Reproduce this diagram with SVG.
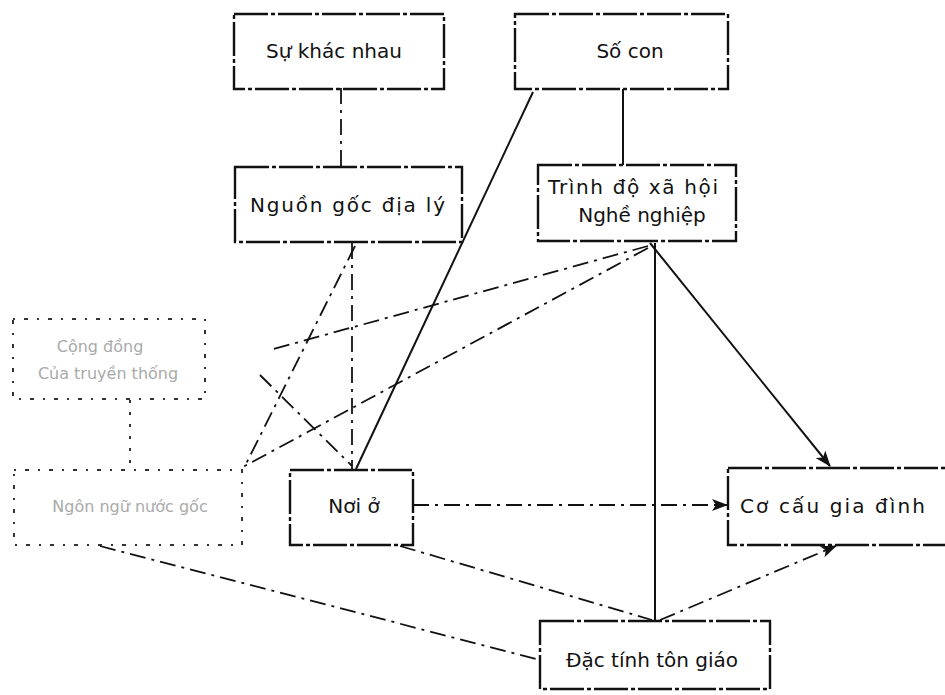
<svg xmlns="http://www.w3.org/2000/svg" width="945" height="695" viewBox="0 0 945 695">
  <style>
    .box { fill: none; stroke: #111; stroke-width: 2.4; stroke-dasharray: 34 3 4 3; }
    .faint { fill: none; stroke: #333; stroke-width: 2; stroke-dasharray: 2 9 4 9; }
    .lbl { font-family: "DejaVu Sans", "Liberation Sans", sans-serif; font-size: 20px; fill: #111; }
    .flbl { font-family: "DejaVu Sans", "Liberation Sans", sans-serif; font-size: 16px; fill: #aaa; }
    .solid { fill: none; stroke: #111; stroke-width: 2; }
    .dd { fill: none; stroke: #111; stroke-width: 1.8; stroke-dasharray: 16 6 3 6; }
    .dot { fill: none; stroke: #333; stroke-width: 2; stroke-dasharray: 3 9; }
  </style>
  <defs>
    <marker id="arr" viewBox="0 0 16 12" refX="15" refY="6" markerWidth="16" markerHeight="12" markerUnits="userSpaceOnUse" orient="auto">
      <path d="M0,0 L16,6 L0,12 L4,6 Z" fill="#111"/>
    </marker>
  </defs>

  <rect width="945" height="695" fill="#fff"/>

  <g id="connectors">
    <!-- Sự khác nhau -> Nguồn gốc địa lý -->
    <line class="dd" x1="341" y1="88" x2="341" y2="167"/>
    <!-- Số con -> Trình độ -->
    <line class="solid" x1="623" y1="89" x2="623" y2="165"/>
    <!-- Số con -> Nơi ở -->
    <line class="solid" x1="533" y1="92" x2="356" y2="469"/>
    <!-- Nguồn gốc -> Nơi ở -->
    <line class="dd" x1="352" y1="243" x2="352" y2="469"/>
    <!-- Nguồn gốc -> lower left box -->
    <line class="dd" x1="355" y1="246" x2="245" y2="466"/>
    <!-- Trình độ -> Cơ cấu gia đình -->
    <line class="solid" x1="650" y1="243" x2="830" y2="466" marker-end="url(#arr)"/>
    <!-- Trình độ -> Đặc tính tôn giáo -->
    <line class="solid" x1="655" y1="243" x2="655" y2="621"/>
    <!-- Trình độ -> upper left box -->
    <line class="dd" x1="648" y1="246" x2="270" y2="350"/>
    <!-- Trình độ -> lower left box -->
    <line class="dd" x1="648" y1="248" x2="243" y2="467"/>
    <!-- upper left box -> Nơi ở -->
    <line class="dd" x1="260" y1="375" x2="352" y2="466"/>
    <!-- upper left box -> lower left box -->
    <line class="dot" x1="130" y1="400" x2="130" y2="468"/>
    <!-- Nơi ở -> Cơ cấu gia đình -->
    <line class="dd" x1="413" y1="505" x2="727" y2="505" marker-end="url(#arr)"/>
    <!-- Nơi ở -> Đặc tính tôn giáo -->
    <line class="dd" x1="400" y1="546" x2="652" y2="620"/>
    <!-- lower left box -> Đặc tính tôn giáo -->
    <line class="dd" x1="100" y1="546" x2="540" y2="660"/>
    <!-- Đặc tính tôn giáo -> Cơ cấu gia đình -->
    <line class="dd" x1="660" y1="620" x2="836" y2="546" marker-end="url(#arr)"/>
  </g>

  <g id="su-khac-nhau">
    <rect class="box" x="234" y="14" width="210" height="75"/>
    <text class="lbl" x="334" y="58" text-anchor="middle">Sự khác nhau</text>
  </g>

  <g id="so-con">
    <rect class="box" x="515" y="14" width="213" height="75"/>
    <text class="lbl" x="630" y="58" text-anchor="middle">Số con</text>
  </g>

  <g id="nguon-goc">
    <rect class="box" x="235" y="167" width="227" height="75"/>
    <text class="lbl" x="250" y="212" textLength="195" lengthAdjust="spacing">Nguồn gốc địa lý</text>
  </g>

  <g id="trinh-do">
    <rect class="box" x="538" y="165" width="198" height="76"/>
    <text class="lbl" x="548" y="194" textLength="170" lengthAdjust="spacing">Trình độ xã hội</text>
    <text class="lbl" x="642" y="222" text-anchor="middle">Nghề nghiệp</text>
  </g>

  <g id="cong-dong">
    <rect class="faint" x="13" y="319" width="192" height="80"/>
    <text class="flbl" x="100" y="352" text-anchor="middle">Cộng đồng</text>
    <text class="flbl" x="108" y="379" text-anchor="middle">Của truyền thống</text>
  </g>

  <g id="ngon-ngu">
    <rect class="faint" x="14" y="470" width="228" height="75"/>
    <text class="flbl" x="130" y="512" text-anchor="middle">Ngôn ngữ nước gốc</text>
  </g>

  <g id="noi-o">
    <rect class="box" x="290" y="470" width="123" height="75"/>
    <text class="lbl" x="354" y="513" text-anchor="middle">Nơi ở</text>
  </g>

  <g id="co-cau">
    <rect class="box" x="728" y="468" width="230" height="77"/>
    <text class="lbl" x="740" y="513" textLength="185" lengthAdjust="spacing">Cơ cấu gia đình</text>
  </g>

  <g id="dac-tinh">
    <rect class="box" x="540" y="621" width="230" height="68"/>
    <text class="lbl" x="652" y="667" text-anchor="middle">Đặc tính tôn giáo</text>
  </g>
</svg>
